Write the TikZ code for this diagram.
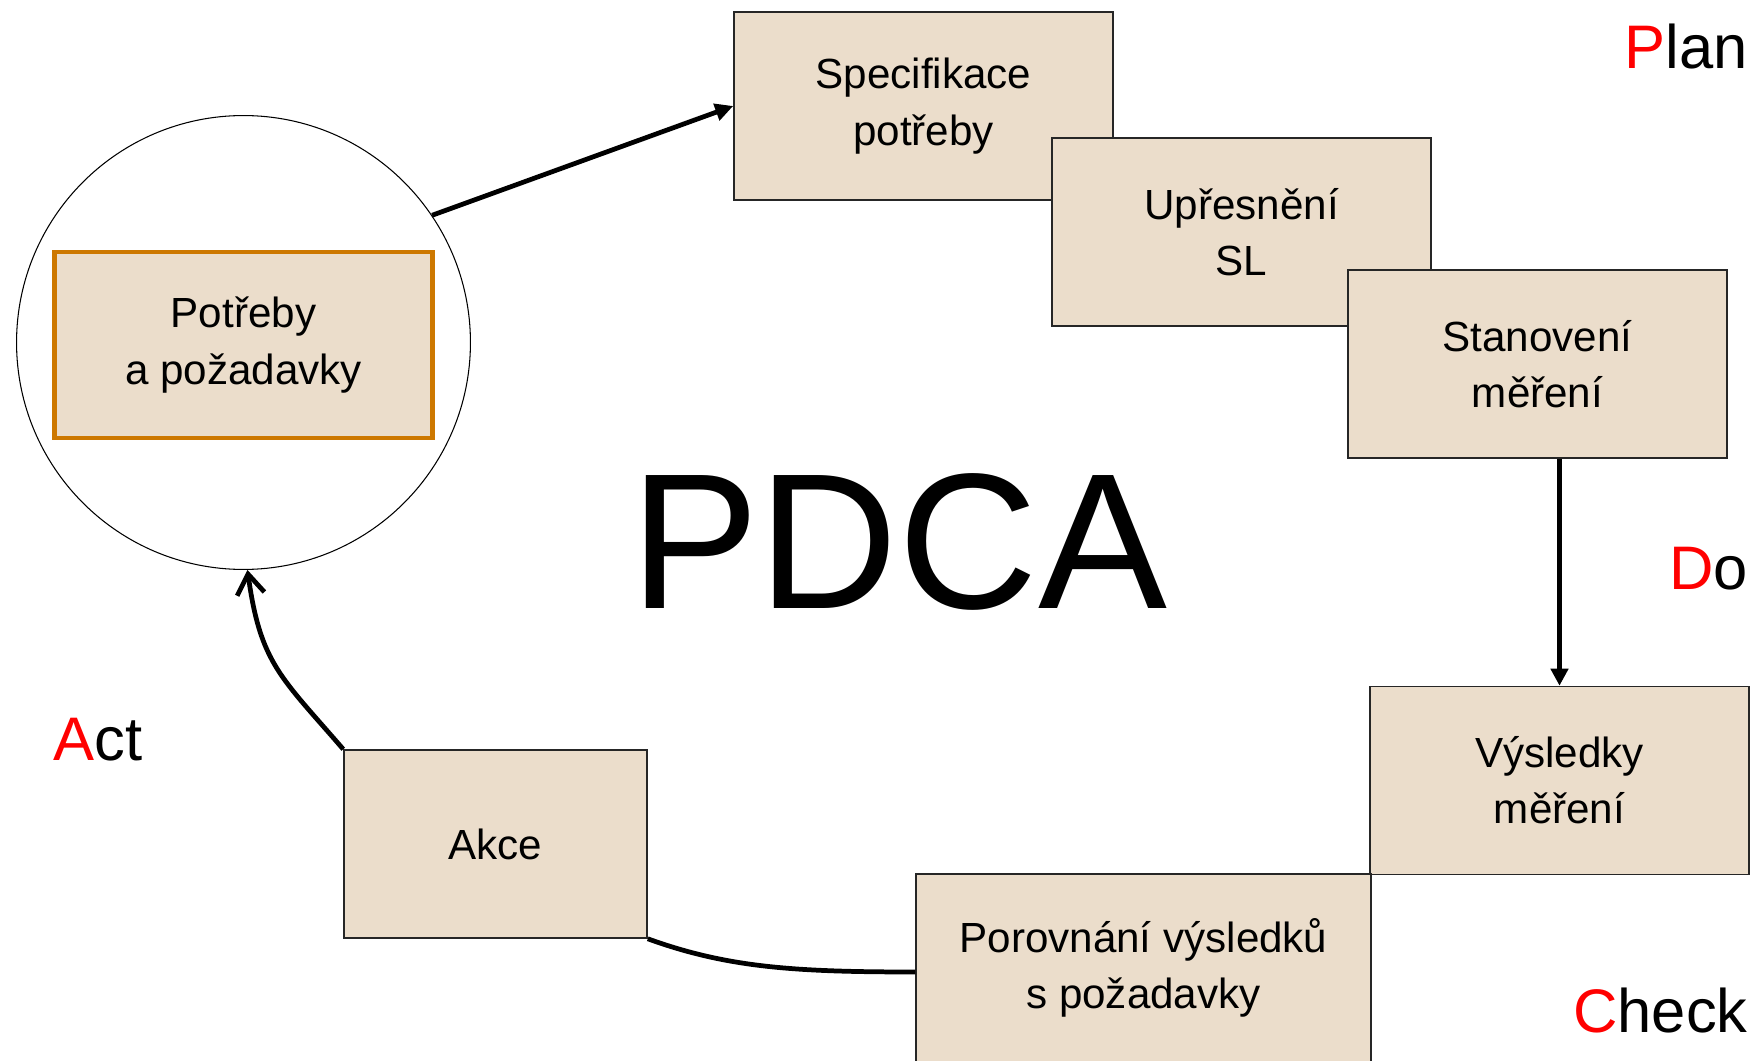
\documentclass[tikz,border=0pt]{standalone}
\usepackage{fontspec}
\setmainfont{Liberation Sans}
\usetikzlibrary{arrows.meta,positioning}
\definecolor{PDtan}{RGB}{235,221,203}
\definecolor{PDorange}{RGB}{205,120,0}
\definecolor{PDred}{RGB}{255,0,0}

\begin{document}
\begin{tikzpicture}[x=0.02cm, y=-0.02cm, every node/.style={font=\fontsize{24}{32}\selectfont}, box/.style={draw=black!85,line width=0.9pt,fill=PDtan,minimum width=7.58cm,minimum height=3.76cm,align=center,inner sep=0pt}, lbl/.style={font=\fontsize{35}{40}\selectfont,inner sep=0pt}, link/.style={line width=2.7pt}]
\useasboundingbox (0,0) rectangle (1752,1061);
\node[circle,draw,line width=0.6pt,minimum size=9.08cm] (circ) at (243.5,342.5) {};
\node[box,draw=PDorange,line width=2.8pt,minimum width=7.56cm,minimum height=3.72cm] (pot) at (243.5,345) {Potřeby\\a požadavky};
\node[box] (spec) at (923.5,106) {Specifikace\\potřeby};
\node[box] (upr) at (1241.5,232) {Upřesnění\\SL};
\node[box] (stan) at (1537.5,364) {Stanovení\\měření};
\node[box] (vys) at (1559.5,780.5) {Výsledky\\měření};
\node[box,minimum width=9.1cm] (por) at (1143.5,968) {Porovnání výsledků\\s požadavky};
\node[box,minimum width=6.06cm] (akce) at (495.5,844) {Akce};
\node[font=\fontsize{110}{120}\selectfont,inner sep=0pt,anchor=base] (pdca) at (898.5,608) {PDCA};
\node[lbl,anchor=base east] (plan) at (1748,69) {\textcolor{PDred}{P}lan};
\node[lbl,anchor=base east] (do) at (1748,589) {\textcolor{PDred}{D}o};
\node[lbl,anchor=base east] (check) at (1748,1032) {\textcolor{PDred}{C}heck};
\node[lbl,anchor=base west] (act) at (53,760) {\textcolor{PDred}{A}ct};
\draw[link,-{Triangle[length=3.6mm,width=3.4mm]}] (circ.34) -- (spec.west);
\draw[link,-{Triangle[length=3.4mm,width=3.4mm]}] (stan.south -| vys.north) -- (vys.north);
\draw[link] (por.181) .. controls +(-120,0) and +(80,29) .. (akce.south east);
\draw[link,-{Straight Barb[length=4mm,width=5.5mm]}] (akce.north west) .. controls +(-62,-72) and +(13,94) .. (circ.-89);
\end{tikzpicture}
\end{document}
